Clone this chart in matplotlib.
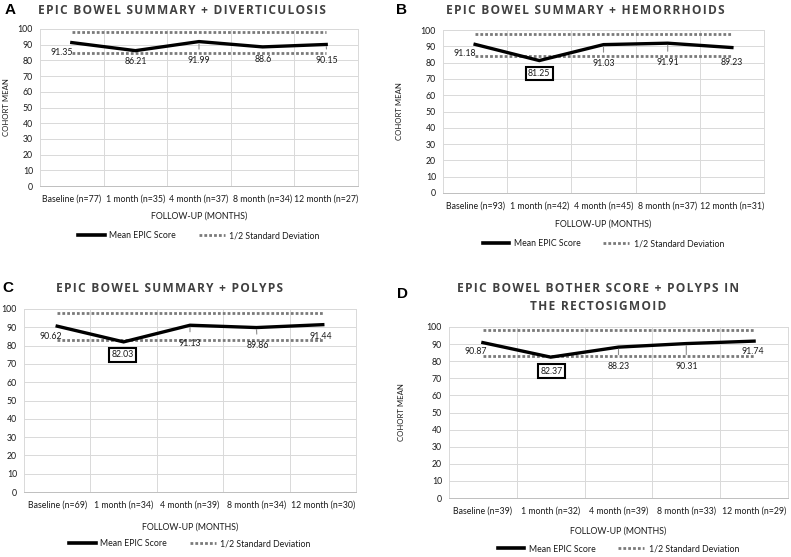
import matplotlib
matplotlib.use("Agg")
import matplotlib.pyplot as plt
from matplotlib.lines import Line2D

plt.rcParams['font.family'] = ['Lato', 'DejaVu Sans']

# data
titles = ["EPIC BOWEL SUMMARY + DIVERTICULOSIS",
          "EPIC BOWEL SUMMARY + HEMORRHOIDS",
          "EPIC BOWEL SUMMARY + POLYPS",
          "EPIC BOWEL BOTHER SCORE + POLYPS IN\nTHE RECTOSIGMOID"]
letters = ["A", "B", "C", "D"]
cats_a = ["Baseline (n=77)", "1 month (n=35)", "4 month (n=37)", "8 month (n=34)", "12 month (n=27)"]
cats_b = ["Baseline (n=93)", "1 month (n=42)", "4 month (n=45)", "8 month (n=37)", "12 month (n=31)"]
cats_c = ["Baseline (n=69)", "1 month (n=34)", "4 month (n=39)", "8 month (n=34)", "12 month (n=30)"]
cats_d = ["Baseline (n=39)", "1 month (n=32)", "4 month (n=39)", "8 month (n=33)", "12 month (n=29)"]
mean_a = [91.35, 86.21, 91.99, 88.6, 90.15]
mean_b = [91.18, 81.25, 91.03, 91.91, 89.23]
mean_c = [90.62, 82.03, 91.13, 89.86, 91.44]
mean_d = [90.87, 82.37, 88.23, 90.31, 91.74]
sd_a = [84.4, 98.2]
sd_b = [84.0, 97.6]
sd_c = [83.0, 98.0]
sd_d = [83.2, 98.5]
label_txt_a = ["91.35", "86.21", "91.99", "88.6", "90.15"]
label_txt_b = ["91.18", "81.25", "91.03", "91.91", "89.23"]
label_txt_c = ["90.62", "82.03", "91.13", "89.86", "91.44"]
label_txt_d = ["90.87", "82.37", "88.23", "90.31", "91.74"]

W, H = 791, 557
fig = plt.figure(figsize=(W / 100, H / 100), dpi=100)


def fx(x):
    return x / W


def fy(y):
    return 1 - y / H


def spaced(s):
    # Excel titles have a bit of letter spacing; hair spaces between letters
    return "\n".join("\u200a".join(line) for line in s.split("\n"))


# layout per panel (pixels): axes box, title, letter, ylabel x, xlabel y, legend y, label offsets
panels = [
    dict(box=(40, 29, 358, 186), tx=182, ty=10, lx=5, ly=10, ylab=7, xlaby=216, legy=236,
         cats=cats_a, mean=mean_a, sd=sd_a, txt=label_txt_a,
         offs=[(1, -10, 'right', False, False), (0, -11, 'center', False, False),
               (0, -19, 'center', True, False), (1, -13, 'center', False, False),
               (1, -16, 'center', True, False)]),
    dict(box=(443, 30, 764, 193), tx=585, ty=10, lx=396, ly=10, ylab=400, xlaby=224, legy=244,
         cats=cats_b, mean=mean_b, sd=sd_b, txt=label_txt_b,
         offs=[(1, -9.5, 'right', False, False), (0, -13, 'center', False, True),
               (0, -19, 'center', True, False), (0, -19.5, 'center', True, False),
               (0, -15, 'center', False, False)]),
    dict(box=(24, 309, 356, 492), tx=170, ty=288, lx=2, ly=288, ylab=None, xlaby=527, legy=544,
         cats=cats_c, mean=mean_c, sd=sd_c, txt=label_txt_c,
         offs=[(5, -10, 'right', False, False), (-1, -13, 'center', False, True),
               (0, -18, 'center', True, False), (1, -18, 'center', True, False),
               (-2, -12, 'center', False, False)]),
    dict(box=(449, 327, 788, 498), tx=598, ty=297, lx=397, ly=294, ylab=401, xlaby=531, legy=549,
         cats=cats_d, mean=mean_d, sd=sd_d, txt=label_txt_d,
         offs=[(4, -9, 'right', False, False), (1, -14, 'center', False, True),
               (0, -19, 'center', True, False), (0, -22.5, 'center', True, False),
               (-1, -10, 'center', False, False)]),
]

grid_c = '#d9d9d9'
text_c = '#1a1a1a'
fs = 6.3

for i, p in enumerate(panels):
    x0, y0, x1, y1 = p['box']
    ax = fig.add_axes([fx(x0), fy(y1), fx(x1 - x0), (y1 - y0) / H])
    n = len(p['cats'])
    xs = list(range(n))
    ax.set_xlim(-0.5, n - 0.5)
    ax.set_ylim(0, 100)
    ax.set_yticks(range(0, 101, 10))
    ax.set_xticks(xs)
    ax.set_xticklabels(p['cats'], fontsize=fs, color=text_c)
    ax.tick_params(axis='y', labelsize=fs, labelcolor=text_c, length=0, pad=5)
    ax.tick_params(axis='x', length=0, pad=6)
    for yv in range(10, 101, 10):
        ax.axhline(yv, color=grid_c, lw=0.7, zorder=0)
    for xb in [k + 0.5 for k in range(n - 1)]:
        ax.axvline(xb, color=grid_c, lw=0.7, zorder=0)
    for s in ax.spines.values():
        s.set_color(grid_c)
        s.set_linewidth(0.7)
    ax.spines['bottom'].set_color('#bfbfbf')

    ax.plot(xs, [p['sd'][1]] * n, color='#7a7a7a', lw=2.0, ls=(0, (1, 0.75)), zorder=2)
    ax.plot(xs, [p['sd'][0]] * n, color='#7a7a7a', lw=2.0, ls=(0, (1, 0.75)), zorder=2)
    ax.plot(xs, p['mean'], color='black', lw=2.4, zorder=3, solid_joinstyle='miter')

    for k, (dx, dy, ha, lead, box) in enumerate(p['offs']):
        kw = {}
        if lead:
            kw['arrowprops'] = dict(arrowstyle='-', color='#8c8c8c', lw=0.8, shrinkA=3, shrinkB=1.5)
        if box:
            kw['bbox'] = dict(boxstyle='square,pad=0.25', fc='white', ec='black', lw=1.5)
        ax.annotate(p['txt'][k], xy=(xs[k], p['mean'][k]), xytext=(dx, dy),
                    textcoords='offset pixels', ha=ha, va='center', fontsize=fs,
                    color=text_c, zorder=5, **kw)

    fig.text(fx(p['tx']), fy(p['ty']), spaced(titles[i]), ha='center', va='center', fontsize=8.6,
             fontweight='bold', color='#404040', linespacing=1.5,
             family=['Open Sans', 'DejaVu Sans'])
    fig.text(fx(p['lx']), fy(p['ly']), letters[i], ha='left', va='center', fontsize=11,
             fontweight='bold', color='black', family=['Liberation Sans', 'DejaVu Sans'])
    if p['ylab'] is not None:
        fig.text(fx(p['ylab']), fy((y0 + y1) / 2), "COHORT MEAN", rotation=90, ha='center',
                 va='center', fontsize=5.6, color=text_c)
    fig.text(fx((x0 + x1) / 2), fy(p['xlaby']), "FOLLOW-UP (MONTHS)", ha='center', va='center',
             fontsize=fs, color=text_c)
    handles = [Line2D([], [], color='black', lw=2.6),
               Line2D([], [], color='#7a7a7a', lw=2.0, ls=(0, (1, 0.75)))]
    ax.legend(handles, ["Mean EPIC Score", "1/2 Standard Deviation"], loc='center',
              bbox_to_anchor=(fx((x0 + x1) / 2), fy(p['legy'])), bbox_transform=fig.transFigure,
              ncol=2, frameon=False, fontsize=fs, handlelength=3.0, columnspacing=2.6,
              handletextpad=0.5, labelcolor=text_c)

fig.savefig("out.png", dpi=100)
